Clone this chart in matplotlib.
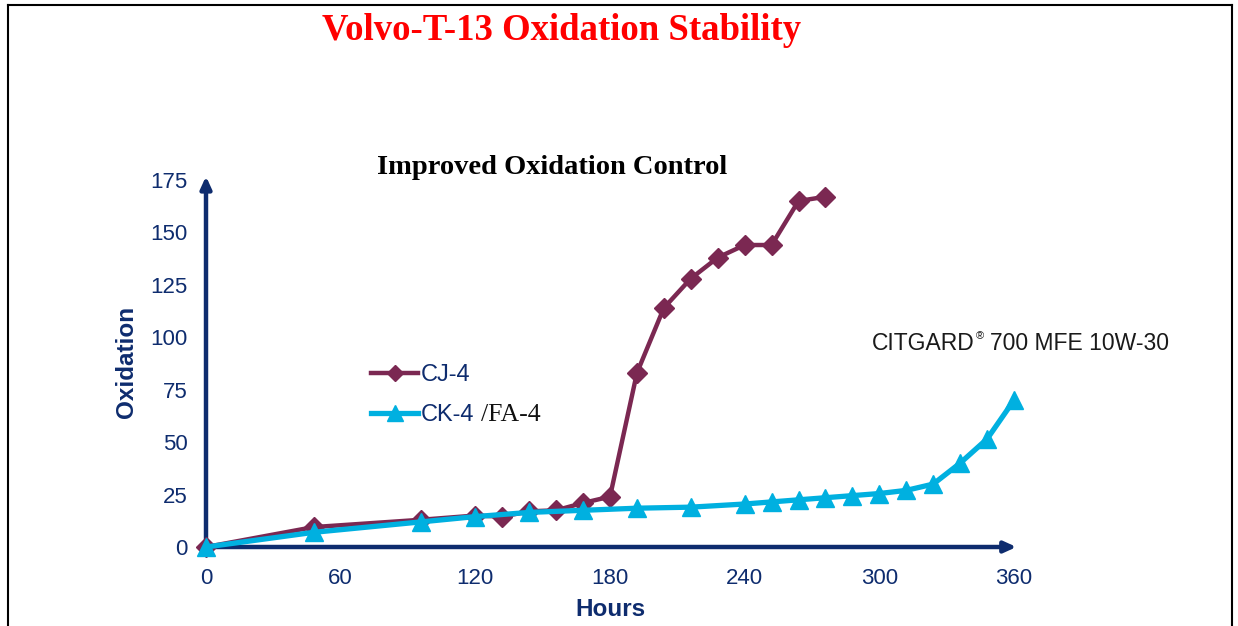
import matplotlib

matplotlib.use("Agg")
import matplotlib.pyplot as plt
from matplotlib.lines import Line2D

NAVY = "#0E2C6E"
CJ_COLOR = "#7B2852"
CK_COLOR = "#00B0E0"

cj4_hours = [0, 48, 96, 120, 132, 144, 156, 168, 180, 192, 204, 216, 228, 240, 252, 264, 276]
cj4_oxid = [0, 9.5, 13, 15, 14.5, 17, 17.5, 21, 24, 83, 114, 128, 138, 144, 144, 165, 167]

ck4_hours = [0, 48, 96, 120, 144, 168, 192, 216, 240, 252, 264, 276, 288, 300, 312, 324, 336, 348, 360]
ck4_oxid = [0, 7, 12, 14.5, 16.5, 17.5, 18.5, 19, 20.5, 21.5, 22.5, 23.5, 24.5, 25.5, 27, 30, 40, 51.5, 70]

x_ticks = [0, 60, 120, 180, 240, 300, 360]
y_ticks = [0, 25, 50, 75, 100, 125, 150, 175]

W, H = 1238, 626


def px(x, y):
    """像素坐标 -> figure 坐标"""
    return x / W, 1 - y / H


fig = plt.figure(figsize=(W / 100, H / 100), dpi=100)
ax = fig.add_axes([206 / W, 1 - 547 / H, (1014 - 206) / W, (547 - 180) / H])

ax.plot(cj4_hours, cj4_oxid, color=CJ_COLOR, lw=3.2, marker="D", ms=10,
        clip_on=False, zorder=4, label="CJ-4")
ax.plot(ck4_hours, ck4_oxid, color=CK_COLOR, lw=3.8, marker="^", ms=13,
        clip_on=False, zorder=5, label="CK-4")

ax.set_xlim(0, 360)
ax.set_ylim(0, 175)
ax.set_xticks(x_ticks)
ax.set_yticks(y_ticks)
for s in ax.spines.values():
    s.set_visible(False)
ax.tick_params(length=0, labelsize=16, labelcolor=NAVY)
ax.tick_params(axis="x", pad=15)
ax.tick_params(axis="y", pad=13)
for lab in ax.get_xticklabels() + ax.get_yticklabels():
    lab.set_family("Liberation Sans")

# 坐标轴箭头
arrow = dict(arrowstyle="-|>,head_length=0.7,head_width=0.32", color=NAVY, lw=3.2,
             shrinkA=0, shrinkB=0)
ax.annotate("", xy=(0, 1.01), xytext=(0, 0), xycoords="axes fraction",
            arrowprops=arrow, zorder=2, annotation_clip=False)
ax.annotate("", xy=(1.003, 0), xytext=(0, 0), xycoords="axes fraction",
            arrowprops=arrow, zorder=2, annotation_clip=False)

fig.text(*px(127, 362), "Oxidation", rotation=90, ha="center", va="center",
         fontsize=17.5, fontweight="bold", color=NAVY, family="Liberation Sans")
fig.text(*px(610, 609), "Hours", ha="center", va="center",
         fontsize=17.5, fontweight="bold", color=NAVY, family="Liberation Sans")

fig.text(*px(562, 31), "Volvo-T-13 Oxidation Stability", ha="center", va="center",
         fontsize=26.5, fontweight="bold", color="#FF0000", family="Liberation Serif")
fig.text(*px(552, 167), "Improved Oxidation Control", ha="center", va="center",
         fontsize=20.5, fontweight="bold", color="black", family="Liberation Serif")

# CITGARD® 700 MFE 10W-30（® 用小号上标）
t1 = fig.text(*px(872, 344), "CITGARD", ha="left", va="center",
              fontsize=16.5, color="#1A1A1A", family="Liberation Sans")
fig.canvas.draw()
b1 = t1.get_window_extent()
t2 = fig.text((b1.x1 + 1) / W, (b1.y1 - 4) / H, "®", ha="left", va="center",
              fontsize=8, color="#1A1A1A", family="Liberation Sans")
fig.canvas.draw()
b2 = t2.get_window_extent()
fig.text((b2.x1 + 6) / W, (b1.y0 + b1.y1) / 2 / H, "700 MFE 10W-30", ha="left", va="center",
         fontsize=16.5, color="#1A1A1A", family="Liberation Sans")

leg = ax.legend(loc="upper left", bbox_to_anchor=px(371, 364), bbox_transform=fig.transFigure,
                frameon=False, handlelength=2.0, handletextpad=0.12,
                labelspacing=0.78, borderpad=0, borderaxespad=0, markerscale=0.85,
                prop={"family": "Liberation Sans", "size": 17})
for t in leg.get_texts():
    t.set_color(NAVY)

fig.canvas.draw()
bb = leg.get_texts()[1].get_window_extent()
fig.text(bb.x1 / W + 6 / W, (bb.y0 + bb.y1) / 2 / H, "/FA-4", ha="left", va="center",
         fontsize=18.5, color="#111111", family="Liberation Serif")

# 外框
fig.add_artist(Line2D([7.5 / W, 7.5 / W], [0, 1 - 4.5 / H], transform=fig.transFigure,
                      color="black", lw=1.5))
fig.add_artist(Line2D([7.5 / W, 1232 / W], [1 - 4.5 / H, 1 - 4.5 / H], transform=fig.transFigure,
                      color="black", lw=1.5))
fig.add_artist(Line2D([1232 / W, 1232 / W], [0, 1 - 4.5 / H], transform=fig.transFigure,
                      color="black", lw=1.5))

fig.savefig("out.png", dpi=100, facecolor="white")
